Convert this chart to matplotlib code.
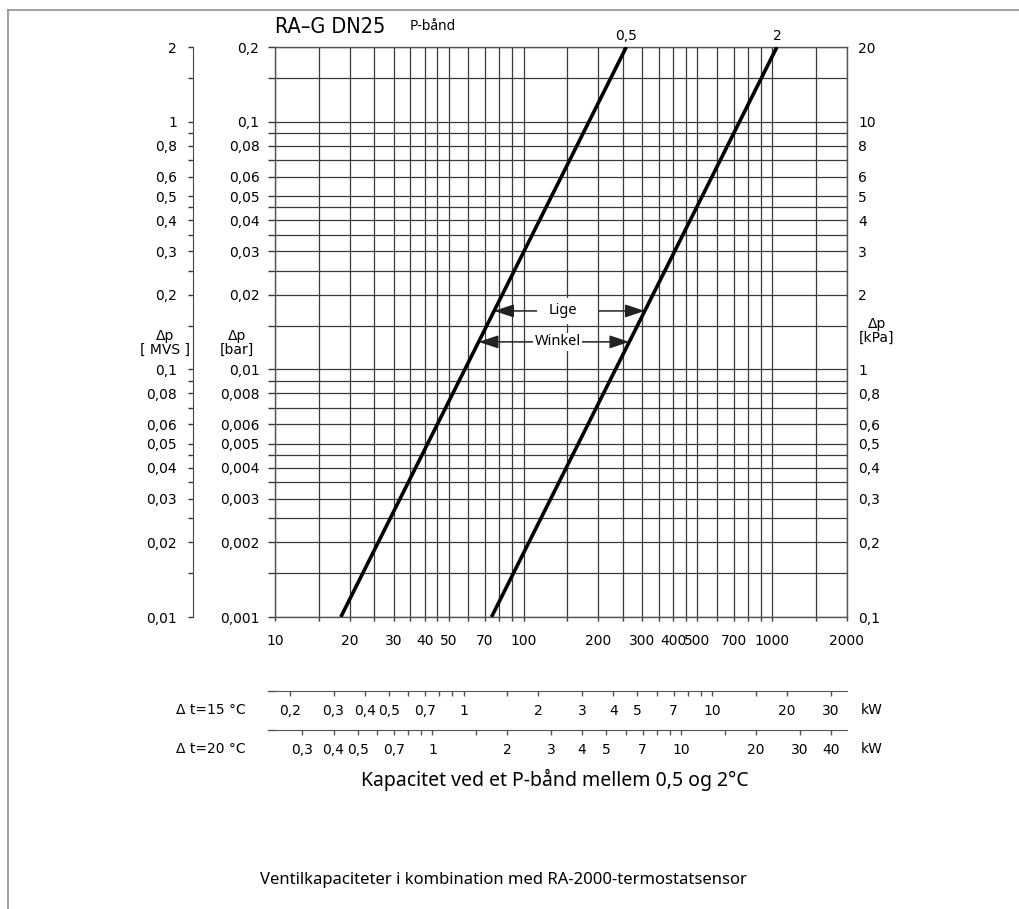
import numpy as np
import matplotlib
matplotlib.use('Agg')
import matplotlib.pyplot as plt
from matplotlib.lines import Line2D
from matplotlib.ticker import FixedLocator, FixedFormatter, NullLocator

# ---------------- data ----------------
dp_bar_ends = [0.001, 0.2]          # pressure drop [bar] at line ends
flow_pband_05 = [18.4, 259.0]       # flow [kg/h], P-band 0,5
flow_pband_2 = [74.3, 1045.0]       # flow [kg/h], P-band 2
curve_labels = ['0,5', '2']

x_grid = [10, 15, 20, 25, 30, 35, 40, 45, 50, 60, 70, 80, 90, 100, 150, 200, 250,
          300, 350, 400, 450, 500, 600, 700, 800, 900, 1000, 1500, 2000]
x_labeled = [10, 20, 30, 40, 50, 70, 100, 200, 300, 400, 500, 700, 1000, 2000]

y_grid = [0.001, 0.0015, 0.002, 0.0025, 0.003, 0.0035, 0.004, 0.0045, 0.005, 0.006,
          0.007, 0.008, 0.009, 0.01, 0.015, 0.02, 0.025, 0.03, 0.035, 0.04, 0.045,
          0.05, 0.06, 0.07, 0.08, 0.09, 0.1, 0.15, 0.2]
y_labeled_bar = [0.001, 0.002, 0.003, 0.004, 0.005, 0.006, 0.008, 0.01, 0.02, 0.03,
                 0.04, 0.05, 0.06, 0.08, 0.1, 0.2]

kw15_ticks = [0.2, 0.3, 0.4, 0.5, 0.6, 0.7, 0.8, 0.9, 1, 1.5, 2, 3, 4, 5, 6, 7, 8, 9,
              10, 15, 20, 30]
kw15_labeled = [0.2, 0.3, 0.4, 0.5, 0.7, 1, 2, 3, 4, 5, 7, 10, 20, 30]
kw20_ticks = [0.3, 0.4, 0.5, 0.6, 0.7, 0.8, 0.9, 1, 1.5, 2, 3, 4, 5, 6, 7, 8, 9, 10,
              15, 20, 30, 40]
kw20_labeled = [0.3, 0.4, 0.5, 0.7, 1, 2, 3, 4, 5, 7, 10, 20, 30, 40]

lige_dp = 0.0172
lige_text_q = 144
winkel_dp = 0.0129
winkel_text_q = 137

W, H = 1019, 909
TXT = 'DejaVu Sans'
CAP = 'Noto Sans'


def fmt(v):
    s = f"{v:.6g}"
    return s.replace('.', ',')


def labels_for(ticks, labeled, scale=1.0):
    lab = []
    for t in ticks:
        if any(abs(t - l) < 1e-12 for l in labeled):
            lab.append(fmt(t * scale))
        else:
            lab.append('')
    return lab


fig = plt.figure(figsize=(W / 100, H / 100), dpi=100)
L, R, T, B = 275, 847, 47, 617
ax = fig.add_axes([L / W, 1 - B / H, (R - L) / W, (B - T) / H])
ax.set_xscale('log')
ax.set_yscale('log')
ax.set_xlim(10, 2000)
ax.set_ylim(0.001, 0.2)

gcol = '#3a3a3a'
for s in ax.spines.values():
    s.set_color('#555555')
    s.set_linewidth(1.0)

# x ticks / grid
ax.xaxis.set_major_locator(FixedLocator(x_grid))
ax.xaxis.set_major_formatter(FixedFormatter(labels_for(x_grid, x_labeled)))
ax.xaxis.set_minor_locator(NullLocator())
ax.tick_params(axis='x', which='major', length=3, width=1.0, color=gcol, pad=9,
               labelsize=10)
# y ticks / grid (bar)
ax.yaxis.set_major_locator(FixedLocator(y_grid))
ax.yaxis.set_major_formatter(FixedFormatter(labels_for(y_grid, y_labeled_bar)))
ax.yaxis.set_minor_locator(NullLocator())
ax.tick_params(axis='y', which='major', length=5.2, width=1.0, color=gcol, pad=6,
               labelsize=10)
ax.grid(True, which='major', color=gcol, linewidth=0.9)
for lab in ax.get_xticklabels() + ax.get_yticklabels():
    lab.set_family(TXT)

# MVS axis (left)
mvs = ax.secondary_yaxis(-(L - 193) / (R - L), functions=(lambda y: y * 10, lambda y: y / 10))
mvs.yaxis.set_major_locator(FixedLocator([v * 10 for v in y_grid]))
mvs.yaxis.set_major_formatter(FixedFormatter(labels_for(y_grid, y_labeled_bar, 10)))
mvs.yaxis.set_minor_locator(NullLocator())
mvs.tick_params(axis='y', length=3.6, width=1.0, color=gcol, pad=8, labelsize=10)
mvs.spines['left'].set_color('#444444')

# kPa axis (right)
kpa = ax.secondary_yaxis('right', functions=(lambda y: y * 100, lambda y: y / 100))
kpa.yaxis.set_major_locator(FixedLocator([v * 100 for v in y_labeled_bar]))
kpa.yaxis.set_major_formatter(FixedFormatter([fmt(v * 100) for v in y_labeled_bar]))
kpa.yaxis.set_minor_locator(NullLocator())
kpa.tick_params(axis='y', length=0, pad=8, labelsize=10)
kpa.spines['right'].set_visible(False)

# kW axes
cw = 4.186 / 3600.0
for dt, ypix, ticks, labeled in [(15, 691, kw15_ticks, kw15_labeled),
                                  (20, 730, kw20_ticks, kw20_labeled)]:
    f = (lambda q, dt=dt: q * cw * dt)
    fi = (lambda k, dt=dt: k / (cw * dt))
    sx = ax.secondary_xaxis(-(ypix - B) / (B - T), functions=(f, fi))
    sx.xaxis.set_major_locator(FixedLocator(ticks))
    sx.xaxis.set_major_formatter(FixedFormatter(labels_for(ticks, labeled)))
    sx.xaxis.set_minor_locator(NullLocator())
    sx.tick_params(axis='x', length=3.5, width=1.0, color='#555555', pad=6, labelsize=10)
    sx.spines['bottom'].set_color('#555555')
    fig.add_artist(Line2D([268 / W, L / W], [1 - ypix / H, 1 - ypix / H],
                          transform=fig.transFigure, color='#555555', lw=1.0))
    fig.text(246 / W, 1 - (ypix + 19) / H, '\u0394 t=%d \u00b0C' % dt, ha='right',
             va='center', fontsize=10, family=TXT)
    fig.text(861 / W, 1 - (ypix + 19) / H, 'kW', ha='left', va='center',
             fontsize=10, family=TXT)

# curves
for q, lab in zip([flow_pband_05, flow_pband_2], curve_labels):
    ax.plot(q, dp_bar_ends, color='black', lw=2.6, solid_capstyle='butt', zorder=4)
    ax.annotate(lab, xy=(q[1], dp_bar_ends[1]), xytext=(0, 3), textcoords='offset points',
                ha='center', va='bottom', fontsize=10, family=TXT, annotation_clip=False)


def q_at(qs, dp):
    return 10 ** np.interp(np.log10(dp), np.log10(dp_bar_ends), np.log10(qs))


def arrow(y, xtext, xtip, shrink):
    ax.annotate('', xy=(xtip, y), xytext=(xtext, y),
                arrowprops=dict(arrowstyle='-|>,head_length=0.6,head_width=0.2',
                                mutation_scale=20, color='#222222', lw=1.1,
                                shrinkA=shrink, shrinkB=0), zorder=5)


arrow(lige_dp, lige_text_q, q_at(flow_pband_05, lige_dp), 19)
arrow(lige_dp, lige_text_q, q_at(flow_pband_2, lige_dp), 26)
arrow(winkel_dp, winkel_text_q, q_at(flow_pband_05, winkel_dp), 15)
arrow(winkel_dp, winkel_text_q, q_at(flow_pband_2, winkel_dp), 17)
ax.text(lige_text_q, lige_dp, 'Lige', ha='center', va='center', fontsize=10.5, family=CAP,
        zorder=6, bbox=dict(boxstyle='square,pad=0.35', fc='white', ec='none'))
ax.text(winkel_text_q, winkel_dp, 'Winkel', ha='center', va='center', fontsize=10.5,
        family=CAP, zorder=6, bbox=dict(boxstyle='square,pad=0.1', fc='white', ec='none'))

# axis unit labels
fig.text(165 / W, 1 - 343 / H, '\u0394p\n[ MVS ]', ha='center', va='center', fontsize=10,
         family=TXT, linespacing=1.0)
fig.text(237 / W, 1 - 343 / H, '\u0394p\n[bar]', ha='center', va='center', fontsize=10,
         family=TXT, linespacing=1.0)
fig.text(877 / W, 1 - 331 / H, '\u0394p\n[kPa]', ha='center', va='center', fontsize=10,
         family=TXT, linespacing=1.0)

# titles
fig.text(275 / W, 1 - 33 / H, 'RA\u2013G DN25', ha='left', va='baseline', fontsize=15.5,
         family=TXT, fontstretch='condensed')
fig.text(410 / W, 1 - 30 / H, 'P-bånd', ha='left', va='baseline', fontsize=10, family=CAP)
fig.text(555 / W, 1 - 780 / H, 'Kapacitet ved et P-bånd mellem 0,5 og 2°C', ha='center',
         va='center', fontsize=14, family=CAP)
fig.text(503 / W, 1 - 880 / H, 'Ventilkapaciteter i kombination med RA-2000-termostatsensor',
         ha='center', va='center', fontsize=12, family=CAP)

# frame
fig.add_artist(Line2D([8 / W, 1], [1 - 10 / H, 1 - 10 / H], transform=fig.transFigure,
                      color='#999999', lw=1.3))
fig.add_artist(Line2D([8 / W, 8 / W], [0, 1 - 10 / H], transform=fig.transFigure,
                      color='#999999', lw=1.3))

fig.savefig('out.png', dpi=100)
